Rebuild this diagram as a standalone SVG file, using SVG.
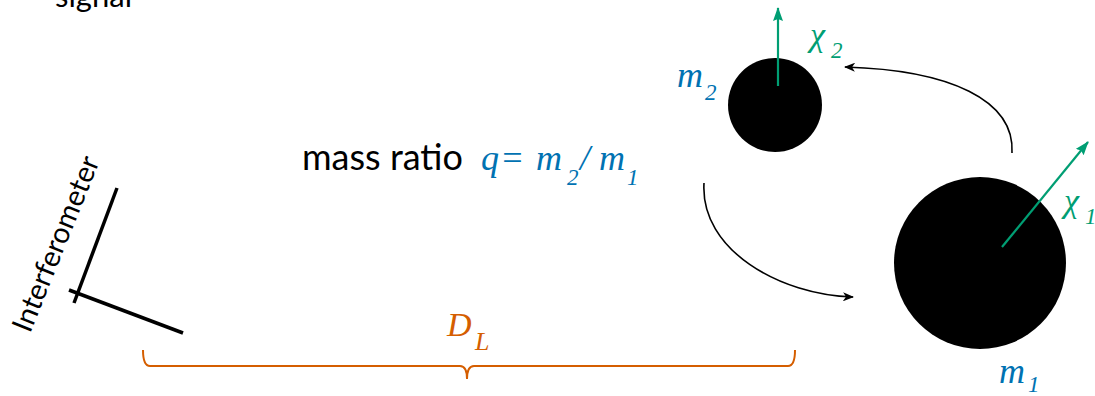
<svg xmlns="http://www.w3.org/2000/svg" width="1095" height="396" viewBox="0 0 1095 396">
  <style>
    .sans { font-family: Lato, "Open Sans", "Liberation Sans", sans-serif; fill: #000; }
    .math { font-family: "Liberation Serif", "Times New Roman", "DejaVu Serif", serif; font-style: italic; }
    .blue { fill: #0072B2; }
    .green { fill: #009E73; }
    .orange { fill: #D55E00; }
    .orbit { fill: none; stroke: #000; stroke-width: 1.6; }
    .spin { stroke: #009E73; stroke-width: 2.2; fill: none; }
    .arm { stroke: #000; stroke-width: 3.5; stroke-linecap: butt; }
  </style>
  <defs>
    <marker id="blackhead" markerUnits="userSpaceOnUse" viewBox="0 0 11 9" refX="10" refY="4.5" markerWidth="11" markerHeight="9" orient="auto">
      <path d="M0,0 L11,4.5 L0,9 L3,4.5 z" fill="#000"/>
    </marker>
    <marker id="greenhead" markerUnits="userSpaceOnUse" viewBox="0 0 14 10" refX="13" refY="5" markerWidth="14" markerHeight="10" orient="auto">
      <path d="M0,0 L14,5 L0,10 L2,5 z" fill="#009E73"/>
    </marker>
  </defs>

  <text class="sans" x="55" y="7" font-size="31">signal</text>

  <g id="interferometer">
    <line class="arm" x1="117" y1="188" x2="74" y2="303"/>
    <line class="arm" x1="69" y1="290" x2="183" y2="333"/>
    <text class="sans" font-size="29" transform="translate(30,334) rotate(-68)">Interferometer</text>
  </g>

  <g id="mass-ratio">
    <text class="sans" x="302" y="170" font-size="36">mass ratio</text>
    <text class="math blue" font-family="'Liberation Serif', serif" font-size="36" y="170">
      <tspan x="481">q</tspan><tspan x="500">=</tspan><tspan x="536">m</tspan><tspan x="567" y="185" font-size="23">2</tspan><tspan x="580" y="170">/</tspan><tspan x="599">m</tspan><tspan x="627" y="185" font-size="23">1</tspan>
    </text>
  </g>

  <g id="m2">
    <circle cx="775" cy="105" r="47" fill="#000"/>
    <line class="spin" x1="778" y1="86" x2="778" y2="8" marker-end="url(#greenhead)"/>
    <text class="math green" font-family="'Liberation Serif', serif" font-size="34" x="810" y="46">χ<tspan x="831" y="58" font-size="23">2</tspan></text>
    <text class="math blue" font-family="'Liberation Serif', serif" font-size="36" x="677" y="87">m<tspan x="705" y="100" font-size="23">2</tspan></text>
  </g>

  <g id="m1">
    <circle cx="980" cy="263" r="86" fill="#000"/>
    <line class="spin" x1="1002" y1="247" x2="1088" y2="142" marker-end="url(#greenhead)"/>
    <text class="math green" font-family="'Liberation Serif', serif" font-size="34" x="1064" y="212">χ<tspan x="1085" y="224" font-size="23">1</tspan></text>
    <text class="math blue" font-family="'Liberation Serif', serif" font-size="36" x="999" y="383">m<tspan x="1028" y="392" font-size="23">1</tspan></text>
  </g>

  <g id="connectors">
    <path class="orbit" d="M704,183 C700,250 780,295 853,297" marker-end="url(#blackhead)"/>
    <path class="orbit" d="M1012,153 C1015,100 950,70 845,67" marker-end="url(#blackhead)"/>
  </g>

  <g id="distance">
    <path d="M143,350 Q143,366 150,366 L460,366 Q467,366 467,379 Q467,366 474,366 L788,366 Q795,366 795,350" fill="none" stroke="#D55E00" stroke-width="2"/>
    <text class="math orange" font-family="'Liberation Serif', serif" font-size="34" x="447" y="336">D<tspan x="475" y="350" font-size="26">L</tspan></text>
  </g>
</svg>
